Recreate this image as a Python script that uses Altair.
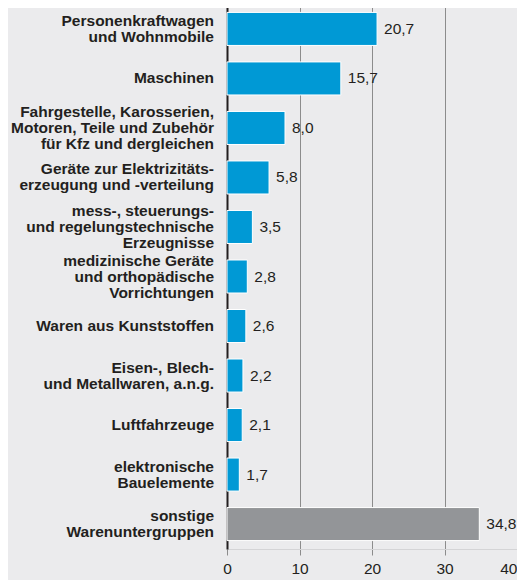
import altair as alt
import pandas as pd

categories = [
    "Personenkraftwagen|und Wohnmobile",
    "Maschinen",
    "Fahrgestelle, Karosserien,|Motoren, Teile und Zubehör|für Kfz und dergleichen",
    "Geräte zur Elektrizitäts-|erzeugung und -verteilung",
    "mess-, steuerungs-|und regelungstechnische|Erzeugnisse",
    "medizinische Geräte|und orthopädische|Vorrichtungen",
    "Waren aus Kunststoffen",
    "Eisen-, Blech-|und Metallwaren, a.n.g.",
    "Luftfahrzeuge",
    "elektronische|Bauelemente",
    "sonstige|Warenuntergruppen",
]
values = [20.7, 15.7, 8.0, 5.8, 3.5, 2.8, 2.6, 2.2, 2.1, 1.7, 34.8]
groups = ["main"] * 10 + ["other"]
x_ticks = [0, 10, 20, 30, 40]

df = pd.DataFrame({"cat": categories, "value": values, "group": groups})
df["nlines"] = df["cat"].str.count(r"\|") + 1

FONT = "Liberation Sans"
TXT = "#231f20"
GRID = "#8c8c8c"
LH = 16

y_scale = alt.Scale(paddingInner=0.333, paddingOuter=0.17)

y_enc = alt.Y(
    "cat:N",
    sort=categories,
    title=None,
    scale=y_scale,
    axis=alt.Axis(
        labels=False,
        ticks=False,
        domain=True,
        domainColor=TXT,
        domainWidth=2,
        grid=False,
    ),
)

x_enc = alt.X(
    "value:Q",
    title=None,
    scale=alt.Scale(domain=[0, 40], nice=False),
    axis=alt.Axis(
        values=x_ticks,
        labelFont=FONT,
        labelFontSize=15.5,
        labelColor=TXT,
        labelPadding=6,
        labelFlush=False,
        labelAlign={"condition": {"test": "datum.value == 40", "value": "right"}, "value": "center"},
        tickSize=6,
        tickColor=GRID,
        domain=True,
        domainColor="#d4d4d6",
        domainWidth=1,
        grid=True,
        gridColor=GRID,
        gridWidth=1,
    ),
)

base = alt.Chart(df)

bars = base.mark_bar(stroke="white", strokeWidth=1).encode(
    y=y_enc,
    x=x_enc,
    color=alt.Color(
        "group:N",
        scale=alt.Scale(domain=["main", "other"], range=["#0099d5", "#939598"]),
        legend=None,
    ),
)

values_text = base.transform_calculate(
    lbl="replace(format(datum.value, '.1f'), '.', ',')"
).mark_text(
    align="left", baseline="middle", dx=7, font=FONT, fontSize=15.5, color=TXT
).encode(
    y=alt.Y("cat:N", sort=categories),
    x=alt.X("value:Q"),
    text="lbl:N",
)

cat_layers = []
for n in (1, 2, 3):
    cat_layers.append(
        base.transform_filter(alt.datum.nlines == n)
        .mark_text(
            align="right",
            baseline="middle",
            lineBreak="|",
            lineHeight=LH,
            dy=-(n - 1) * LH / 2,
            font=FONT,
            fontWeight="bold",
            fontSize=15.5,
            color=TXT,
        )
        .encode(
            y=alt.Y("cat:N", sort=categories),
            x=alt.value(-13),
            text="cat:N",
        )
    )

chart = (
    alt.layer(bars, values_text, *cat_layers)
    .properties(
        width=290,
        height=545,
        background="#ebebed",
        autosize=alt.AutoSizeParams(type="none"),
        padding={"left": 219, "top": -4, "right": 0, "bottom": 40},
    )
    .configure_view(stroke=None)
)

chart.save("out.html", embed_options={"renderer": "svg", "actions": False})
